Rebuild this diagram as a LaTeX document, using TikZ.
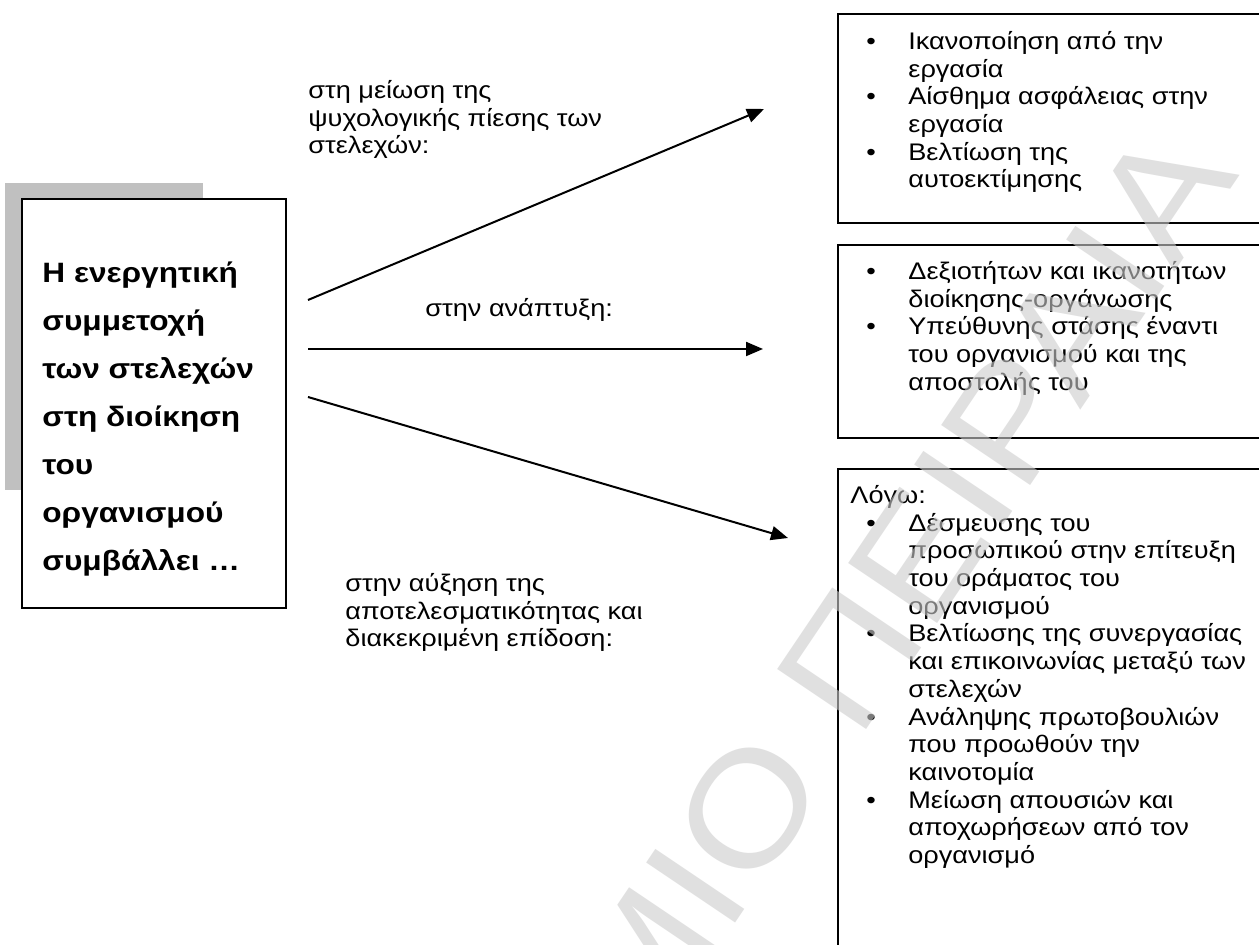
\documentclass[tikz,border=0pt]{standalone}
\usepackage{fontspec}
\setmainfont[FakeStretch=1.13]{Liberation Sans}
\usetikzlibrary{arrows.meta}
\definecolor{dgInk}{HTML}{000000}
\definecolor{dgShadow}{HTML}{C0C0C0}
\definecolor{dgMark}{gray}{0.8}
\newcommand{\lbul}{\makebox[29pt][l]{\hspace{8pt}\textbullet}}
\newcommand{\lpad}{\hspace*{29pt}}
\tikzset{
  dg shadow/.style={fill=dgShadow},
  dg frame/.style={draw=dgInk, line width=1pt, fill=white, inner sep=0pt, anchor=north west},
  dg link/.style={
    draw=dgInk,
    line width=1pt,
    -{Triangle[length=8.5pt,width=7pt]}
  },
  dg lead/.style={font=\fontsize{14}{24}\selectfont\bfseries, align=left, inner sep=0pt, anchor=north west},
  dg list/.style={font=\fontsize{12}{13.85}\selectfont, align=left, inner sep=0pt, anchor=north west},
  dg note/.style={font=\fontsize{12}{13.85}\selectfont, align=left, inner sep=0pt, anchor=north west},
  dg mark/.style={font=\fontsize{78}{78}\selectfont, text=dgMark, text opacity=0.6, rotate=56, inner sep=0pt}
}

\begin{document}
\begin{tikzpicture}[x=0.5pt,y=-0.5pt]
  \useasboundingbox[fill=white] (0,0) rectangle (1259,945);

  % left box with its grey shadow
  \path[dg shadow] (5,183) rectangle (203,490);
  \node[dg frame, minimum width=132pt, minimum height=204.5pt] (lead) at (21,198) {};
  \node[dg lead] (leadTxt) at (42,261)
    {Η ενεργητική\\συμμετοχή\\των στελεχών\\στη διοίκηση\\του\\οργανισμού\\συμβάλλει …};

  % right boxes
  \node[dg frame, minimum width=240pt, minimum height=104.5pt] (stress) at (837,13) {};
  \node[dg frame, minimum width=240pt, minimum height=96.5pt] (growth) at (837,244) {};
  \node[dg frame, minimum width=240pt, minimum height=260pt] (result) at (837,468) {};

  \node[dg list] (stressTxt) at (850,31)
    {\lbul Ικανοποίηση από την\\\lpad εργασία\\
     \lbul Αίσθημα ασφάλειας στην\\\lpad εργασία\\
     \lbul Βελτίωση της\\\lpad αυτοεκτίμησης};
  \node[dg list] (growthTxt) at (850,261)
    {\lbul Δεξιοτήτων και ικανοτήτων\\\lpad διοίκησης-οργάνωσης\\
     \lbul Υπεύθυνης στάσης έναντι\\\lpad του οργανισμού και της\\\lpad αποστολής του};
  \node[dg list] (resultTxt) at (850,485)
    {Λόγω:\\
     \lbul Δέσμευσης του\\\lpad προσωπικού στην επίτευξη\\\lpad του οράματος του\\\lpad οργανισμού\\
     \lbul Βελτίωσης της συνεργασίας\\\lpad και επικοινωνίας μεταξύ των\\\lpad στελεχών\\
     \lbul Ανάληψης πρωτοβουλιών\\\lpad που προωθούν την\\\lpad καινοτομία\\
     \lbul Μείωση απουσιών και\\\lpad αποχωρήσεων από τον\\\lpad οργανισμό};

  % arrows and their labels
  \coordinate (up0) at (308,300);
  \coordinate (up1) at (764,109);
  \coordinate (mid0) at (308,349);
  \coordinate (mid1) at (763,349);
  \coordinate (low0) at (308,397);
  \coordinate (low1) at (788,538);
  \draw[dg link] (up0) -- (up1);
  \draw[dg link] (mid0) -- (mid1);
  \draw[dg link] (low0) -- (low1);

  \node[dg note] (upLbl) at (308,80) {στη μείωση της\\ψυχολογικής πίεσης των\\στελεχών:};
  \node[dg note] (midLbl) at (425,298) {στην ανάπτυξη:};
  \node[dg note] (lowLbl) at (345,573) {στην αύξηση της\\αποτελεσματικότητας και\\διακεκριμένη επίδοση:};

  % watermark over everything
  \node[dg mark, anchor=base east] (mark) at (1240,175) {ΠΑΝΕΠΙΣΤΗΜΙΟ ΠΕΙΡΑΙΑ};
\end{tikzpicture}
\end{document}
